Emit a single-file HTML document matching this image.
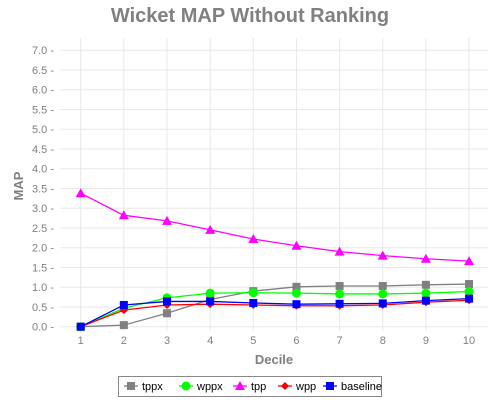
<!DOCTYPE html>
<html><head><meta charset="utf-8"><style>
body{margin:0;background:#fff;font-family:"Liberation Sans",sans-serif}
svg{display:block}
</style></head><body>
<svg id="c" width="500" height="400">
<text x="250" y="22" text-anchor="middle" font-size="20" font-weight="bold" fill="#808080">Wicket MAP Without Ranking</text>
<text transform="translate(23,186) rotate(-90)" text-anchor="middle" font-size="13" font-weight="bold" fill="#808080">MAP</text>
<text x="274" y="364" text-anchor="middle" font-size="13" font-weight="bold" fill="#808080">Decile</text>
<g id="grid"></g><g id="series"></g>
<g>
<rect x="118.5" y="376.5" width="263" height="20" fill="#fff" stroke="#888"/>
<g id="legend"></g></g>
</svg>
<script>
const categories=[1,2,3,4,5,6,7,8,9,10];
const yTicks=[0,0.5,1,1.5,2,2.5,3,3.5,4,4.5,5,5.5,6,6.5,7];
const seriesNames=["tppx","wppx","tpp","wpp","baseline"];
const tppx=[0,0.04,0.34,0.69,0.9,1.01,1.03,1.03,1.06,1.08];
const wppx=[0,0.47,0.73,0.85,0.86,0.85,0.83,0.83,0.85,0.89];
const tpp=[3.38,2.82,2.68,2.45,2.22,2.05,1.9,1.8,1.72,1.66];
const wpp=[0,0.42,0.55,0.57,0.55,0.53,0.53,0.55,0.62,0.67];
const baseline=[0,0.55,0.64,0.64,0.6,0.57,0.58,0.59,0.66,0.71];
const NS="http://www.w3.org/2000/svg";
const X=v=>80.7+(v-1)*43.15, Y=v=>326.7-v*39.5;
function el(t,a,p){const e=document.createElementNS(NS,t);for(const k in a)e.setAttribute(k,a[k]);p.appendChild(e);return e;}
const g=document.getElementById('grid');
for(const t of yTicks){
 const l=el('line',{x1:60,x2:488,y1:Y(t),y2:Y(t),stroke:'#e8e8e8'},g);
 
 
 const tx=el('text',{x:54,y:Y(t)+4,'text-anchor':'end','font-size':11,fill:'#808080'},g);
 tx.textContent=t.toFixed(1)+' -';
 
 
}
for(const c of categories){
 const l=el('line',{x1:X(c),x2:X(c),y1:38,y2:331,stroke:'#e8e8e8'},g);
 
 
 const tx=el('text',{x:X(c),y:344,'text-anchor':'middle','font-size':11,fill:'#808080'},g);
 tx.textContent=c;
 
 
}
const colors={tppx:'#808080',wppx:'#00ff00',tpp:'#ff00ff',wpp:'#ff0000',baseline:'#0000ff'};
const data={tppx,wppx,tpp,wpp,baseline};
function marker(name,x,y,p){
 const c=colors[name];let m;
 if(name==='tppx'||name==='baseline')m=el('rect',{x:x-4,y:y-4,width:8,height:8,fill:c},p);
 else if(name==='wppx')m=el('circle',{cx:x,cy:y,r:4.5,fill:c},p);
 else if(name==='tpp')m=el('polygon',{points:`${x},${y-5} ${x+5},${y+4} ${x-5},${y+4}`,fill:c},p);
 else m=el('polygon',{points:`${x},${y-4} ${x+4},${y} ${x},${y+4} ${x-4},${y}`,fill:c},p);
 return m;
}
const s=document.getElementById('series');
for(const n of seriesNames){
 const grp=el('g',{},s);
 
 
 const pl=el('polyline',{points:data[n].map((v,i)=>X(categories[i])+','+Y(v)).join(' '),fill:'none',stroke:colors[n],'stroke-width':1.3},grp);
 
 
 data[n].forEach((v,i)=>{const m=marker(n,X(categories[i]),Y(v),grp);
  
  });
}
const lg=document.getElementById('legend');
const lx=[124,179,233,278,323];
seriesNames.forEach((n,i)=>{
 const e=el('g',{},lg);
 
 
 el('line',{x1:lx[i],x2:lx[i]+14,y1:386,y2:386,stroke:colors[n],'stroke-width':1.3},e);
 marker(n,lx[i]+7,386,e);
 const t=el('text',{x:lx[i]+18,y:390,'font-size':11,fill:'#000'},e);
 t.textContent=n;
});
</script>
</body></html>
